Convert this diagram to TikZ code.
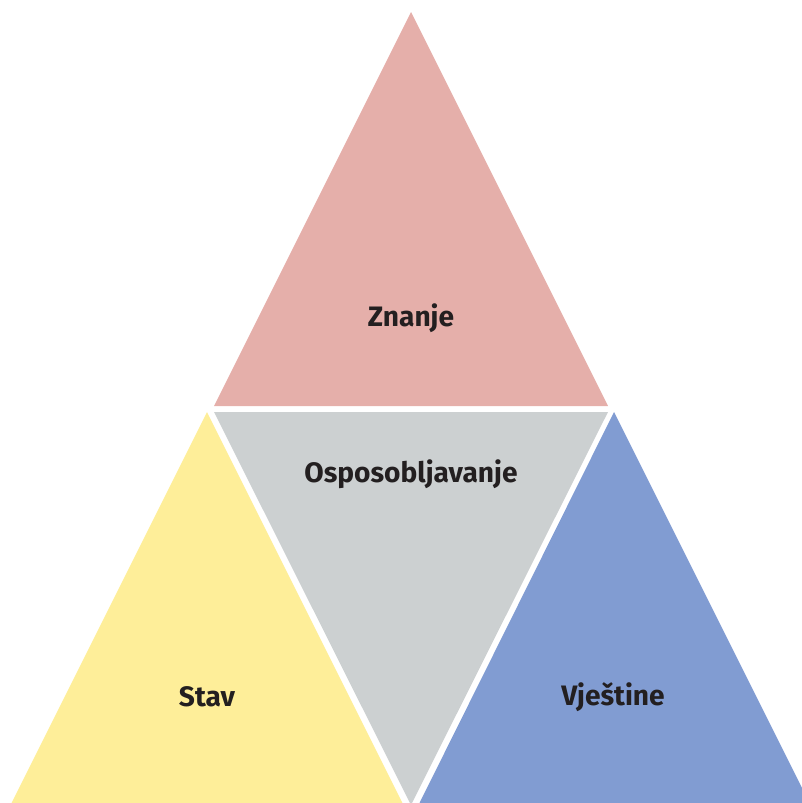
\documentclass[tikz,border=0pt]{standalone}
\usepackage{fontspec}
\setmainfont{Fira Sans}
\usepackage{tikz}
\definecolor{znanjecol}{HTML}{E5AFAA}
\definecolor{stavcol}{HTML}{FEEE99}
\definecolor{osposcol}{HTML}{CCD0D1}
\definecolor{vjescol}{HTML}{819CD2}
\definecolor{txtcol}{HTML}{231F20}
\tikzset{label/.style={text=txtcol, font=\fontsize{20}{24}\selectfont\bfseries}}

\begin{document}
\begin{tikzpicture}[x=0.025cm, y=-0.025cm]
			%%%%% START %%%%%
			\useasboundingbox (0, 0) rectangle (802, 803);
			\clip (0, 0) rectangle (802, 803);
			
			\fill[znanjecol] (411, 12) -- (608, 406) -- (214, 406) -- cycle;
			\fill[stavcol] (207, 412) -- (403, 804) -- (11, 804) -- cycle;
			\fill[osposcol] (214, 412) -- (608, 412) -- (411, 805) -- cycle;
			\fill[vjescol] (614, 412) -- (811, 806) -- (418, 806) -- cycle;
			
			\node[label] (znanje) at (411, 318) {Znanje};
			\node[label] (ospos) at (411, 474) {Osposobljavanje};
			\node[label] (stav) at (207, 697) {Stav};
			\node[label] (vjes) at (613, 697) {Vještine};
			%%%%% END %%%%%
		\end{tikzpicture}
\end{document}
